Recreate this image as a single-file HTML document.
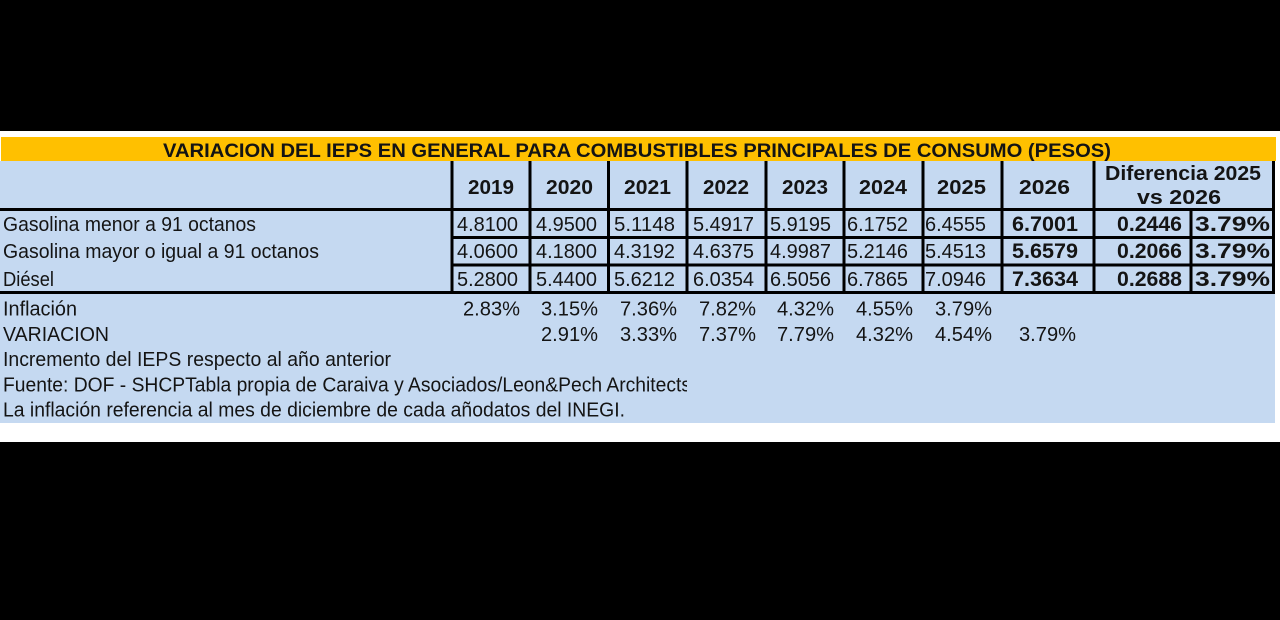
<!DOCTYPE html>
<html>
<head>
<meta charset="utf-8">
<style>
html,body{margin:0;padding:0;background:#000;}
body{width:1280px;height:620px;overflow:hidden;}
svg{display:block;}
text{font-family:"Liberation Sans",Arial,sans-serif;fill:#141414;}
.b{font-weight:bold;}
</style>
</head>
<body>
<svg width="1280" height="620" viewBox="0 0 1280 620" xmlns="http://www.w3.org/2000/svg">
  <defs>
    <clipPath id="fclip"><rect x="0" y="370" width="687" height="30"/></clipPath>
  </defs>
  <rect x="0" y="0" width="1280" height="620" fill="#000"/>
  <!-- white band -->
  <rect x="0" y="131" width="1280" height="311" fill="#fff"/>
  <!-- orange title -->
  <rect x="1" y="137" width="1275" height="24" fill="#FFC000"/>
  <!-- blue body -->
  <rect x="0" y="161" width="1275" height="262" fill="#C5D9F1"/>

  <!-- grid lines -->
  <g stroke="#000" stroke-width="3" fill="none">
    <line x1="0" y1="209.5" x2="1275" y2="209.5"/>
    <line x1="0" y1="292.5" x2="1275" y2="292.5"/>
    <line x1="452" y1="237.5" x2="1275" y2="237.5"/>
    <line x1="452" y1="265" x2="1275" y2="265"/>
    <line x1="452" y1="161" x2="452" y2="294"/>
    <line x1="530" y1="161" x2="530" y2="294"/>
    <line x1="608.5" y1="161" x2="608.5" y2="294"/>
    <line x1="687" y1="161" x2="687" y2="294"/>
    <line x1="766" y1="161" x2="766" y2="294"/>
    <line x1="844" y1="161" x2="844" y2="294"/>
    <line x1="923" y1="161" x2="923" y2="294"/>
    <line x1="1002" y1="161" x2="1002" y2="294"/>
    <line x1="1094" y1="161" x2="1094" y2="294"/>
    <line x1="1191" y1="208" x2="1191" y2="294"/>
    <line x1="1273.5" y1="161" x2="1273.5" y2="294"/>
  </g>

  <!-- title -->
  <text class="b" x="163" y="157" font-size="19.5" textLength="948" lengthAdjust="spacingAndGlyphs">VARIACION DEL IEPS EN GENERAL PARA COMBUSTIBLES PRINCIPALES DE CONSUMO (PESOS)</text>

  <!-- header years -->
  <g font-size="20.5">
    <text class="b" x="468" y="194" textLength="46" lengthAdjust="spacingAndGlyphs">2019</text>
    <text class="b" x="546" y="194" textLength="47" lengthAdjust="spacingAndGlyphs">2020</text>
    <text class="b" x="624" y="194" textLength="47" lengthAdjust="spacingAndGlyphs">2021</text>
    <text class="b" x="703" y="194" textLength="46" lengthAdjust="spacingAndGlyphs">2022</text>
    <text class="b" x="782" y="194" textLength="46" lengthAdjust="spacingAndGlyphs">2023</text>
    <text class="b" x="859" y="194" textLength="48" lengthAdjust="spacingAndGlyphs">2024</text>
    <text class="b" x="937" y="194" textLength="49" lengthAdjust="spacingAndGlyphs">2025</text>
    <text class="b" x="1019" y="194" textLength="51" lengthAdjust="spacingAndGlyphs">2026</text>
    <text class="b" x="1105" y="180" textLength="156" lengthAdjust="spacingAndGlyphs">Diferencia 2025</text>
    <text class="b" x="1137" y="204" textLength="84" lengthAdjust="spacingAndGlyphs">vs 2026</text>
  </g>

  <!-- row labels -->
  <g font-size="20.5">
    <text x="3" y="231" textLength="253" lengthAdjust="spacingAndGlyphs">Gasolina menor a 91 octanos</text>
    <text x="3" y="258" textLength="316" lengthAdjust="spacingAndGlyphs">Gasolina mayor o igual a 91 octanos</text>
    <text x="3" y="286" textLength="51" lengthAdjust="spacingAndGlyphs">Diésel</text>
  </g>

  <!-- values -->
  <g font-size="20.5">
    <text x="457" y="231" textLength="61" lengthAdjust="spacingAndGlyphs">4.8100</text>
    <text x="536" y="231" textLength="61" lengthAdjust="spacingAndGlyphs">4.9500</text>
    <text x="614" y="231" textLength="61" lengthAdjust="spacingAndGlyphs">5.1148</text>
    <text x="693" y="231" textLength="61" lengthAdjust="spacingAndGlyphs">5.4917</text>
    <text x="770" y="231" textLength="61" lengthAdjust="spacingAndGlyphs">5.9195</text>
    <text x="847" y="231" textLength="61" lengthAdjust="spacingAndGlyphs">6.1752</text>
    <text x="925" y="231" textLength="61" lengthAdjust="spacingAndGlyphs">6.4555</text>

    <text x="457" y="258" textLength="61" lengthAdjust="spacingAndGlyphs">4.0600</text>
    <text x="536" y="258" textLength="61" lengthAdjust="spacingAndGlyphs">4.1800</text>
    <text x="614" y="258" textLength="61" lengthAdjust="spacingAndGlyphs">4.3192</text>
    <text x="693" y="258" textLength="61" lengthAdjust="spacingAndGlyphs">4.6375</text>
    <text x="770" y="258" textLength="61" lengthAdjust="spacingAndGlyphs">4.9987</text>
    <text x="847" y="258" textLength="61" lengthAdjust="spacingAndGlyphs">5.2146</text>
    <text x="925" y="258" textLength="61" lengthAdjust="spacingAndGlyphs">5.4513</text>

    <text x="457" y="286" textLength="61" lengthAdjust="spacingAndGlyphs">5.2800</text>
    <text x="536" y="286" textLength="61" lengthAdjust="spacingAndGlyphs">5.4400</text>
    <text x="614" y="286" textLength="61" lengthAdjust="spacingAndGlyphs">5.6212</text>
    <text x="693" y="286" textLength="61" lengthAdjust="spacingAndGlyphs">6.0354</text>
    <text x="770" y="286" textLength="61" lengthAdjust="spacingAndGlyphs">6.5056</text>
    <text x="847" y="286" textLength="61" lengthAdjust="spacingAndGlyphs">6.7865</text>
    <text x="925" y="286" textLength="61" lengthAdjust="spacingAndGlyphs">7.0946</text>
  </g>

  <!-- bold 2026 and diferencia -->
  <g font-size="21">
    <text class="b" x="1012" y="231" textLength="66" lengthAdjust="spacingAndGlyphs">6.7001</text>
    <text class="b" x="1012" y="258" textLength="66" lengthAdjust="spacingAndGlyphs">5.6579</text>
    <text class="b" x="1012" y="286" textLength="66" lengthAdjust="spacingAndGlyphs">7.3634</text>

    <text class="b" x="1117" y="231" textLength="65" lengthAdjust="spacingAndGlyphs">0.2446</text>
    <text class="b" x="1117" y="258" textLength="65" lengthAdjust="spacingAndGlyphs">0.2066</text>
    <text class="b" x="1117" y="286" textLength="65" lengthAdjust="spacingAndGlyphs">0.2688</text>

    <text class="b" x="1195" y="231" textLength="75" lengthAdjust="spacingAndGlyphs">3.79%</text>
    <text class="b" x="1195" y="258" textLength="75" lengthAdjust="spacingAndGlyphs">3.79%</text>
    <text class="b" x="1195" y="286" textLength="75" lengthAdjust="spacingAndGlyphs">3.79%</text>
  </g>

  <!-- bottom section -->
  <g font-size="20.5">
    <text x="3" y="315.5" textLength="74" lengthAdjust="spacingAndGlyphs">Inflación</text>
    <text x="3" y="341" textLength="106" lengthAdjust="spacingAndGlyphs">VARIACION</text>
    <text x="3" y="366" textLength="388" lengthAdjust="spacingAndGlyphs">Incremento del IEPS respecto al año anterior</text>
    <g clip-path="url(#fclip)">
      <text x="3" y="391.5" textLength="688" lengthAdjust="spacingAndGlyphs">Fuente: DOF - SHCPTabla propia de Caraiva y Asociados/Leon&amp;Pech Architects</text>
    </g>
    <text x="3" y="416.5" textLength="622" lengthAdjust="spacingAndGlyphs">La inflación referencia al mes de diciembre de cada añodatos del INEGI.</text>

    <text x="463" y="315.5" textLength="57" lengthAdjust="spacingAndGlyphs">2.83%</text>
    <text x="541" y="315.5" textLength="57" lengthAdjust="spacingAndGlyphs">3.15%</text>
    <text x="620" y="315.5" textLength="57" lengthAdjust="spacingAndGlyphs">7.36%</text>
    <text x="699" y="315.5" textLength="57" lengthAdjust="spacingAndGlyphs">7.82%</text>
    <text x="777" y="315.5" textLength="57" lengthAdjust="spacingAndGlyphs">4.32%</text>
    <text x="856" y="315.5" textLength="57" lengthAdjust="spacingAndGlyphs">4.55%</text>
    <text x="935" y="315.5" textLength="57" lengthAdjust="spacingAndGlyphs">3.79%</text>

    <text x="541" y="341" textLength="57" lengthAdjust="spacingAndGlyphs">2.91%</text>
    <text x="620" y="341" textLength="57" lengthAdjust="spacingAndGlyphs">3.33%</text>
    <text x="699" y="341" textLength="57" lengthAdjust="spacingAndGlyphs">7.37%</text>
    <text x="777" y="341" textLength="57" lengthAdjust="spacingAndGlyphs">7.79%</text>
    <text x="856" y="341" textLength="57" lengthAdjust="spacingAndGlyphs">4.32%</text>
    <text x="935" y="341" textLength="57" lengthAdjust="spacingAndGlyphs">4.54%</text>
    <text x="1019" y="341" textLength="57" lengthAdjust="spacingAndGlyphs">3.79%</text>
  </g>
</svg>
</body>
</html>
